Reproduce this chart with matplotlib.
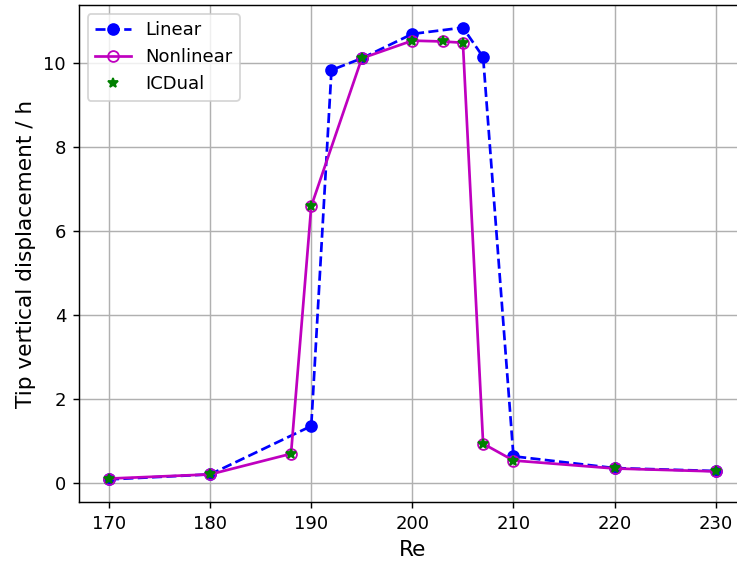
import matplotlib
matplotlib.use('Agg')
import matplotlib.pyplot as plt

# Data
re_lin = [170, 180, 190, 192, 195, 200, 205, 207, 210, 220, 230]
disp_lin = [0.08, 0.2, 1.35, 9.82, 10.1, 10.68, 10.83, 10.13, 0.63, 0.35, 0.28]

re_nl = [170, 180, 188, 190, 195, 200, 203, 205, 207, 210, 220, 230]
disp_nl = [0.1, 0.2, 0.69, 6.58, 10.1, 10.52, 10.5, 10.47, 0.93, 0.53, 0.34, 0.27]

re_icd = re_nl
disp_icd = disp_nl

fig = plt.figure(figsize=(737 / 130, 565 / 130), dpi=130)
ax = fig.add_axes([0.1068, 0.1115, 0.9054, 0.8796])

ax.plot(re_lin, disp_lin, 'b--o', label='Linear')
ax.plot(re_nl, disp_nl, 'm-o', markerfacecolor='none', label='Nonlinear')
ax.plot(re_icd, disp_icd, 'g*', label='ICDual')

ax.set_xlim(167, 233)
ax.set_xticks([170, 180, 190, 200, 210, 220, 230])
ax.set_yticks([0, 2, 4, 6, 8, 10])
ax.grid(True)
ax.set_xlabel('Re', fontsize=12)
ax.set_ylabel('Tip vertical displacement / h', fontsize=12)
ax.legend(loc='upper left')

fig.savefig('out.png', dpi=130)
